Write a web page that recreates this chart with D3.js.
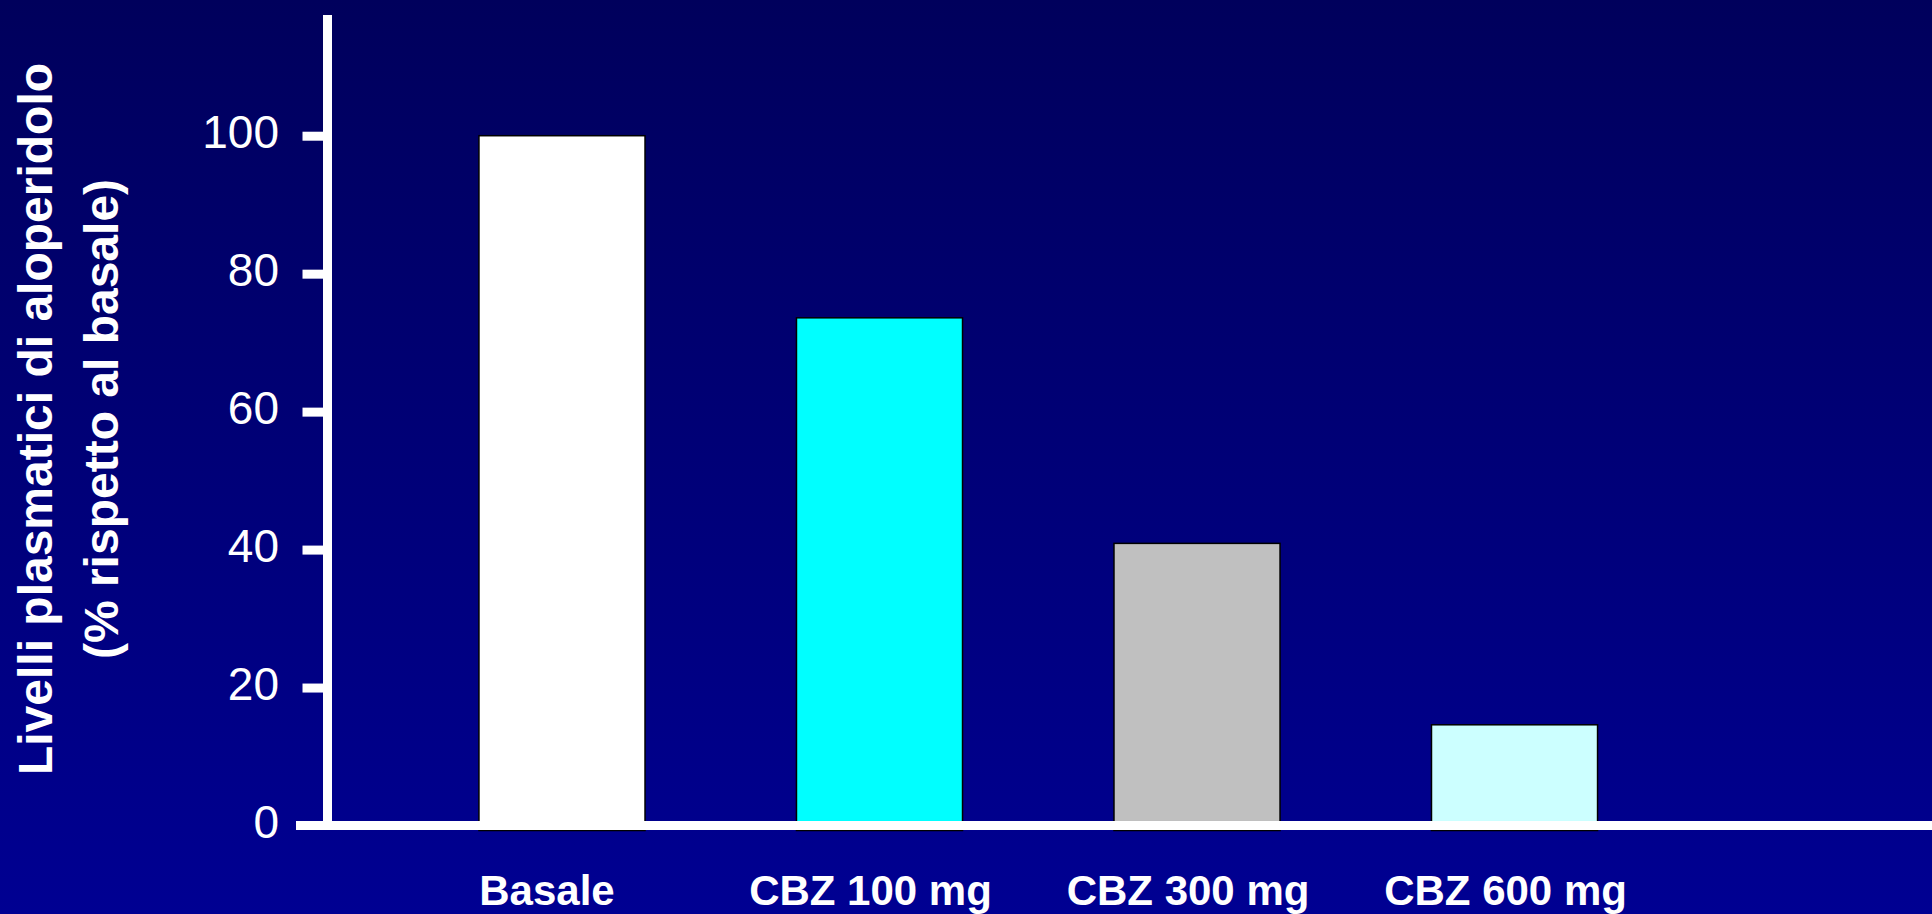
<!DOCTYPE html>
<html>
<head>
<meta charset="utf-8">
<script src="https://cdn.jsdelivr.net/npm/d3@7/dist/d3.min.js"></script>
<style>
  html, body { margin: 0; padding: 0; background: #000080; }
  svg { display: block; font-family: "Liberation Sans", Arial, sans-serif; }
</style>
</head>
<body>
<svg id="chart" width="1932" height="914"></svg>
<script>
// Plasma haloperidol levels relative to baseline, by carbamazepine dose
const categories = ["Basale", "CBZ 100 mg", "CBZ 300 mg", "CBZ 600 mg"];
const values = [100, 73.6, 40.9, 14.6];
const barColors = ["#FFFFFF", "#00FFFF", "#C0C0C0", "#CCFFFF"];
const yTicks = [0, 20, 40, 60, 80, 100];
const yTitleLines = ["Livelli plasmatici di aloperidolo", "(% rispetto al basale)"];

const W = 1932, H = 914;
const svg = d3.select("#chart");

// background gradient: dark navy at top to brighter navy at bottom
const defs = svg.append("defs");
const grad = defs.append("linearGradient")
  .attr("id", "bg").attr("x1", 0).attr("y1", 0).attr("x2", 0).attr("y2", 1);
grad.append("stop").attr("offset", "0%").attr("stop-color", "#00005C");
grad.append("stop").attr("offset", "100%").attr("stop-color", "#000092");
svg.append("rect").attr("width", W).attr("height", H).attr("fill", "url(#bg)");

const axisX = 327.5;
const y = d3.scaleLinear().domain([0, 117.5]).range([825.5, 15]);
const x = d3.scaleBand().domain(categories)
  .range([axisX, 1749]).paddingInner(0.477).paddingOuter(0.477);

// bars
svg.append("g").selectAll("rect").data(values).join("rect")
  .attr("x", (d, i) => x(categories[i]))
  .attr("y", d => y(d))
  .attr("width", x.bandwidth())
  .attr("height", d => y(0) - y(d) + 5)
  .attr("fill", (d, i) => barColors[i])
  .attr("stroke", "#000")
  .attr("stroke-width", 1.5);

// y axis with thick ticks
const yAxis = svg.append("g")
  .attr("transform", `translate(${axisX},0)`)
  .call(d3.axisLeft(y).tickValues(yTicks).tickSize(25).tickPadding(23.5));
yAxis.select(".domain").remove();
yAxis.selectAll(".tick line")
  .attr("stroke", "#fff").attr("stroke-width", 9)
  .attr("display", d => d === 0 ? "none" : null);
yAxis.selectAll(".tick text")
  .attr("fill", "#fff")
  .attr("font-size", 46)
  .attr("dy", "0.25em")
  .attr("font-family", "'Liberation Sans', Arial, sans-serif");

// axis lines
svg.append("line")
  .attr("x1", axisX).attr("x2", axisX)
  .attr("y1", y.range()[1]).attr("y2", y(0))
  .attr("stroke", "#fff").attr("stroke-width", 9);
svg.append("line")
  .attr("x1", 296).attr("x2", W)
  .attr("y1", y(0)).attr("y2", y(0))
  .attr("stroke", "#fff").attr("stroke-width", 9);

// category labels
const xAxis = svg.append("g")
  .attr("transform", `translate(0,${y(0)})`)
  .call(d3.axisBottom(x).tickSize(0).tickPadding(50));
xAxis.select(".domain").remove();
xAxis.selectAll(".tick text")
  .attr("fill", "#fff")
  .attr("font-size", 42)
  .attr("font-weight", "bold")
  .attr("dx", (d, i) => i === 0 ? -15 : -9)
  .attr("font-family", "'Liberation Sans', Arial, sans-serif");

// y axis title, two rotated lines
const title = svg.append("text")
  .attr("transform", "translate(52,419) rotate(-90)")
  .attr("text-anchor", "middle")
  .attr("fill", "#fff")
  .attr("font-size", 48)
  .attr("font-weight", "bold");
title.selectAll("tspan").data(yTitleLines).join("tspan")
  .attr("x", 0)
  .attr("dy", (d, i) => i === 0 ? 0 : 66)
  .text(d => d);
</script>
</body>
</html>
